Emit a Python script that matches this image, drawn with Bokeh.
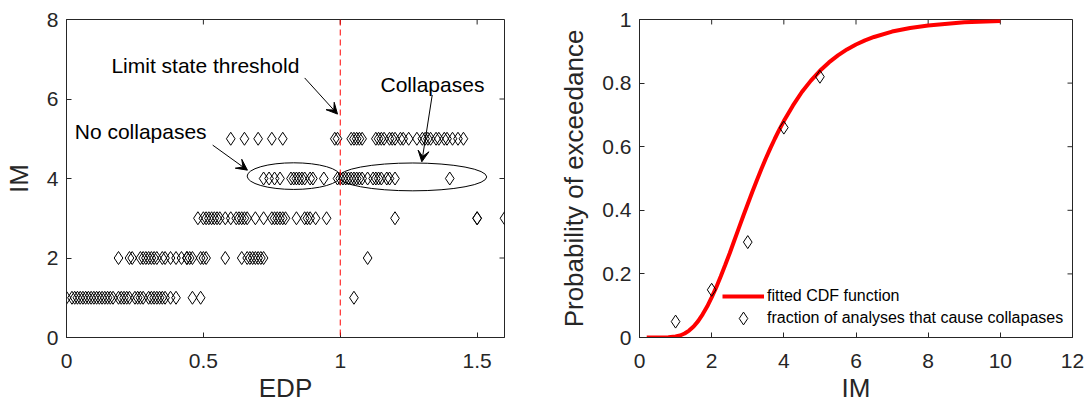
from bokeh.plotting import figure
from bokeh.layouts import row
from bokeh.models import (Range1d, FixedTicker, Span, Label, Arrow,
                          VeeHead, Legend, LegendItem)
from bokeh.embed import file_html
from bokeh.resources import INLINE

# ---------------- data: left panel (EDP vs IM) ----------------
im_levels = [1, 2, 3, 4, 5]
edp_im1 = [0.00, 0.02, 0.03, 0.04, 0.05, 0.06, 0.07, 0.08, 0.09, 0.10, 0.11, 0.12,
           0.13, 0.14, 0.15, 0.16, 0.17, 0.19, 0.20, 0.21, 0.22, 0.23, 0.25, 0.26,
           0.27, 0.28, 0.30, 0.31, 0.32, 0.33, 0.34, 0.35, 0.36, 0.38, 0.40, 0.46,
           0.49, 1.05]
edp_im2 = [0.19, 0.23, 0.24, 0.27, 0.28, 0.29, 0.30, 0.31, 0.32, 0.33, 0.35, 0.36,
           0.38, 0.40, 0.42, 0.44, 0.44, 0.45, 0.46, 0.49, 0.50, 0.51, 0.58, 0.64,
           0.66, 0.67, 0.68, 0.69, 0.70, 0.71, 0.72, 1.10]
edp_im3 = [0.48, 0.50, 0.51, 0.52, 0.53, 0.54, 0.55, 0.56, 0.58, 0.60, 0.62, 0.63,
           0.64, 0.65, 0.66, 0.69, 0.72, 0.75, 0.76, 0.77, 0.78, 0.79, 0.80, 0.84,
           0.87, 0.88, 0.89, 0.91, 0.95, 1.20, 1.50, 1.50, 1.60]
edp_im4 = [0.72, 0.74, 0.76, 0.78, 0.82, 0.83, 0.84, 0.85, 0.86, 0.87, 0.89, 0.90,
           0.94, 0.99, 1.00, 1.01, 1.02, 1.03, 1.04, 1.05, 1.06, 1.07, 1.08, 1.10,
           1.12, 1.13, 1.14, 1.15, 1.17, 1.18, 1.20, 1.40]
edp_im5 = [0.60, 0.65, 0.70, 0.75, 0.79, 0.98, 0.99, 1.04, 1.05, 1.06, 1.07, 1.08,
           1.13, 1.14, 1.15, 1.16, 1.18, 1.19, 1.20, 1.22, 1.23, 1.25, 1.28, 1.30,
           1.31, 1.32, 1.33, 1.35, 1.36, 1.38, 1.39, 1.41, 1.43, 1.45]
edp_threshold = 1.0

left_xticks = [0, 0.5, 1, 1.5]
left_yticks = [0, 2, 4, 6, 8]

# ellipses (centre x, centre y, width, height) in data units
ellipse_cx = [0.83, 1.265]
ellipse_cy = [4.06, 4.04]
ellipse_w = [0.34, 0.54]
ellipse_h = [0.67, 0.70]

# ---------------- data: right panel (fragility) ----------------
im_points = [1, 2, 3, 4, 5]
frac_collapse = [0.05, 0.15, 0.30, 0.66, 0.82]
cdf_im = [0.2, 0.5, 0.8, 1.0, 1.125, 1.25, 1.375, 1.5, 1.625, 1.75, 1.875, 2.0,
          2.125, 2.25, 2.375, 2.5, 2.625, 2.75, 2.875, 3.0, 3.125, 3.25, 3.375,
          3.5, 3.625, 3.75, 3.875, 4.0, 4.25, 4.5, 4.75, 5.0, 5.25, 5.5, 5.75,
          6.0, 6.25, 6.5, 7.0, 7.5, 8.0, 9.0, 10.0]
cdf_p = [0.0, 0.0, 0.0005, 0.003, 0.0064, 0.0125, 0.0217, 0.0345, 0.0515, 0.073,
         0.0973, 0.126, 0.1574, 0.192, 0.2279, 0.265, 0.3041, 0.343, 0.382, 0.42,
         0.4577, 0.494, 0.529, 0.563, 0.5948, 0.625, 0.6536, 0.6805, 0.729, 0.772,
         0.8078, 0.8387, 0.865, 0.887, 0.9058, 0.9214, 0.9344, 0.945, 0.962,
         0.9735, 0.981, 0.991, 0.995]
right_xticks = [0, 2, 4, 6, 8, 10, 12]
right_yticks = [0, 0.2, 0.4, 0.6, 0.8, 1.0]

TXT = "#262626"
FONT = "Liberation Sans"
TICK_PX = 5


def style(p, xticks, yticks, xlabel, ylabel, frame_w, frame_h):
    p.grid.visible = False
    p.outline_line_color = TXT
    p.outline_line_width = 1
    for ax in (p.xaxis[0], p.yaxis[0]):
        ax.axis_line_color = TXT
        ax.major_tick_line_color = TXT
        ax.major_tick_in = TICK_PX
        ax.major_tick_out = 0
        ax.minor_tick_line_color = None
        ax.major_label_text_font = FONT
        ax.major_label_text_font_size = "21px"
        ax.major_label_text_color = TXT
        ax.axis_label_text_font = FONT
        ax.axis_label_text_font_size = "26px"
        ax.axis_label_text_font_style = "normal"
        ax.axis_label_text_color = TXT
    p.xaxis[0].ticker = FixedTicker(ticks=xticks)
    p.yaxis[0].ticker = FixedTicker(ticks=yticks)
    p.xaxis[0].axis_label = xlabel
    p.yaxis[0].axis_label = ylabel
    p.xaxis[0].major_label_standoff = 16
    p.xaxis[0].axis_label_standoff = 2
    p.yaxis[0].major_label_standoff = 8
    p.yaxis[0].axis_label_standoff = 10
    # inward ticks on the top and right sides of the box
    x0, x1 = p.x_range.start, p.x_range.end
    y0, y1 = p.y_range.start, p.y_range.end
    dy = TICK_PX * (y1 - y0) / frame_h
    dx = TICK_PX * (x1 - x0) / frame_w
    p.segment(x0=xticks, y0=[y1] * len(xticks), x1=xticks, y1=[y1 - dy] * len(xticks),
              line_color=TXT, line_width=1)
    p.segment(x0=[x1] * len(yticks), y0=yticks, x1=[x1 - dx] * len(yticks), y1=yticks,
              line_color=TXT, line_width=1)


# ---------------- left figure ----------------
p1 = figure(width=540, height=410, x_range=Range1d(0, 1.6), y_range=Range1d(0, 8),
            output_backend="svg", toolbar_location=None,
            min_border_left=65, min_border_right=36, min_border_top=19,
            min_border_bottom=73)
style(p1, left_xticks, left_yticks, "EDP", "IM", 439, 318)
p1.xaxis[0].major_label_overrides = {0: "0", 0.5: "0.5", 1: "1", 1.5: "1.5"}

xs, ys = [], []
for lvl, arr in zip(im_levels, [edp_im1, edp_im2, edp_im3, edp_im4, edp_im5]):
    xs += arr
    ys += [lvl] * len(arr)
p1.scatter(xs, ys, marker="diamond", size=13, fill_color=None, line_color="black",
           line_width=1)

p1.add_layout(Span(location=edp_threshold, dimension="height", line_color="red",
                   line_width=1, line_dash="6 4"))

p1.ellipse(x=ellipse_cx, y=ellipse_cy, width=ellipse_w, height=ellipse_h,
           fill_color=None, line_color="black", line_width=1)

for txt, x, y in (("Limit state threshold", 0.164, 6.84),
                  ("Collapases", 1.147, 6.36),
                  ("No collapases", 0.03, 5.17)):
    p1.add_layout(Label(x=x, y=y, text=txt, text_font=FONT, text_font_size="21px",
                        text_color="black", text_baseline="middle", text_align="left"))

for (xa, ya, xb, yb) in ((0.87, 6.53, 0.99, 5.62),
                         (1.336, 6.10, 1.298, 4.42),
                         (0.534, 4.84, 0.661, 4.21)):
    p1.add_layout(Arrow(x_start=xa, y_start=ya, x_end=xb, y_end=yb, line_width=1,
                        line_color="black",
                        end=VeeHead(size=11, fill_color="black", line_color="black",
                                    line_width=1)))

# ---------------- right figure ----------------
p2 = figure(width=548, height=410, x_range=Range1d(0, 12), y_range=Range1d(0, 1),
            output_backend="svg", toolbar_location=None,
            min_border_left=99, min_border_right=16, min_border_top=18,
            min_border_bottom=73)
style(p2, right_xticks, right_yticks, "IM", "Probability of exceedance", 433, 319)
p2.yaxis[0].major_label_overrides = {0: "0", 0.2: "0.2", 0.4: "0.4", 0.6: "0.6",
                                     0.8: "0.8", 1.0: "1"}

r_line = p2.line(cdf_im, cdf_p, line_color="red", line_width=4)
r_pts = p2.scatter(im_points, frac_collapse, marker="diamond", size=13,
                   fill_color=None, line_color="black", line_width=1)

legend_kw = dict(orientation="vertical", background_fill_alpha=0,
                 border_line_color=None, padding=0, margin=0, spacing=0,
                 glyph_width=42, glyph_height=32, label_height=18, label_standoff=3,
                 label_text_font=FONT, label_text_font_size="16px",
                 label_text_color="black")
leg1 = Legend(items=[LegendItem(label="fitted CDF function", renderers=[r_line])],
              location=(83, 25), **legend_kw)
leg2 = Legend(items=[LegendItem(label="fraction of analyses that cause collapases",
                                renderers=[r_pts])],
              location=(83, 3), **legend_kw)
p2.add_layout(leg1, "center")
p2.add_layout(leg2, "center")

layout = row(p1, p2)
open("out.html", "w").write(file_html(layout, INLINE))
